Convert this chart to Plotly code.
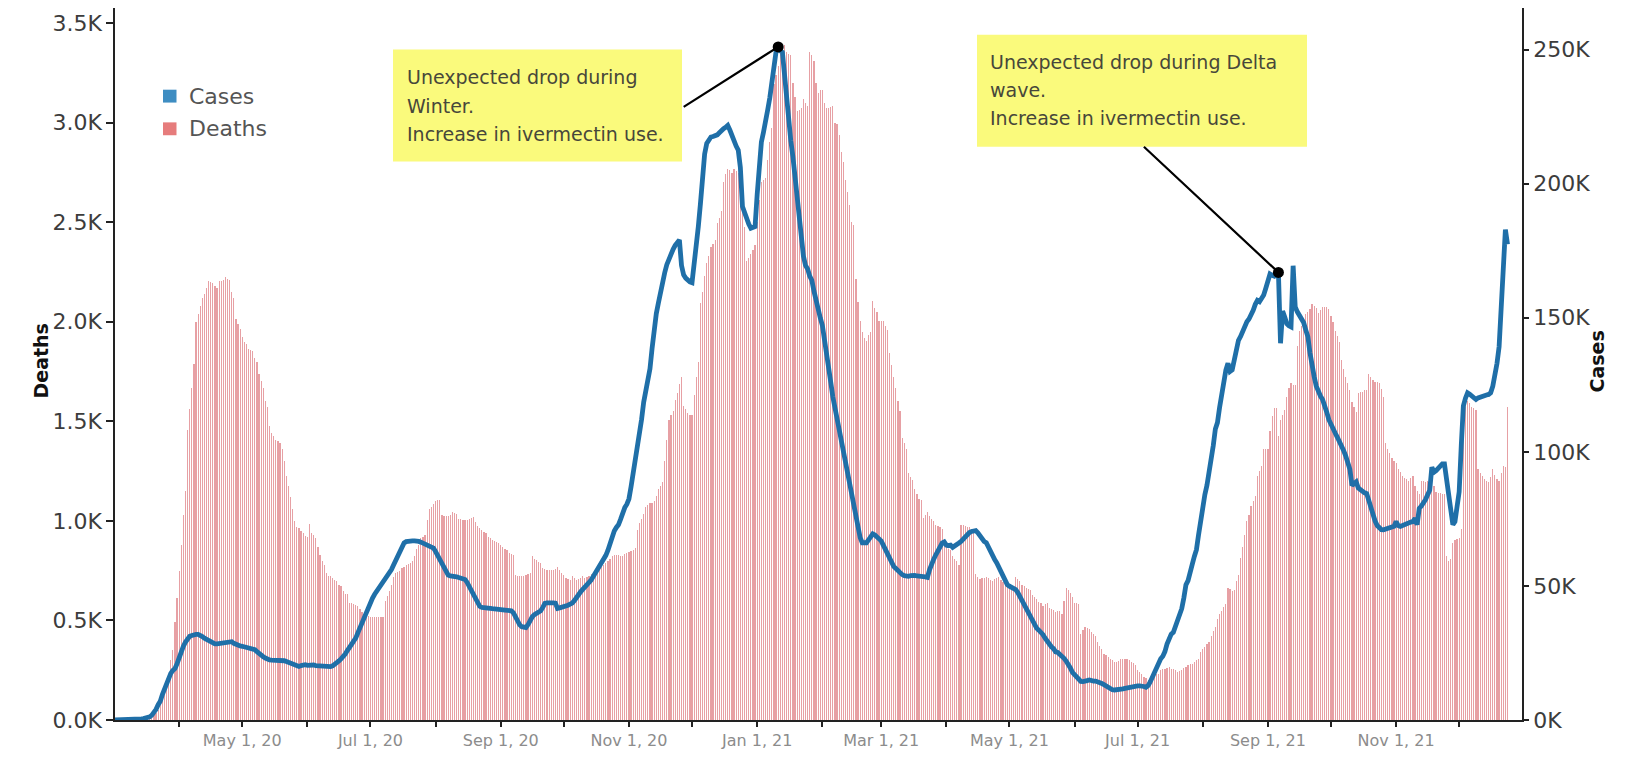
import pandas as pd
import plotly.graph_objects as go

# ---------------- DATA ----------------
start_date = "2020-03-01"

# Daily deaths (7-day avg style), one list per month
deaths_2020_03 = [0]*15 + [2, 5, 10, 15, 25, 35, 50, 80, 120, 167, 190, 217, 300, 349, 490, 614]
deaths_2020_04 = [746, 880, 1028, 1152, 1458, 1560, 1665, 1789, 1996, 2040, 2079, 2120, 2137, 2170, 2203,
                  2200, 2195, 2180, 2170, 2203, 2205, 2211, 2223, 2215, 2211, 2150, 2120, 2012, 1990, 1963]
deaths_2020_05 = [1921, 1900, 1888, 1864, 1860, 1855, 1820, 1797, 1739, 1700, 1665, 1600, 1574, 1475, 1440,
                  1425, 1408, 1400, 1392, 1359, 1300, 1226, 1177, 1120, 1061, 1000, 970, 962, 950, 937, 925]
deaths_2020_06 = [920, 986, 940, 928, 912, 870, 829, 800, 780, 738, 725, 722, 713, 705, 697,
                  680, 672, 647, 635, 631, 589, 585, 581, 575, 570, 556, 540, 530, 523, 520]
deaths_2020_07 = [518, 515, 515, 515, 515, 515, 515, 597, 622, 650, 680, 720, 738, 742, 746,
                  763, 770, 780, 785, 788, 800, 821, 860, 879, 912, 920, 928, 1003, 1061, 1070, 1086]
deaths_2020_08 = [1102, 1105, 1107, 1028, 1025, 1024, 1026, 1028, 1044, 1040, 1036, 1011, 1010, 1005, 1003,
                  1003, 1008, 1015, 1019, 995, 975, 965, 953, 945, 937, 920, 915, 904, 900, 895, 887]
deaths_2020_09 = [880, 870, 860, 854, 837, 832, 829, 730, 725, 722, 722, 725, 730, 735, 738,
                  821, 810, 804, 795, 788, 763, 758, 755, 755, 755, 755, 760, 766, 755, 740]
deaths_2020_10 = [730, 713, 710, 705, 722, 712, 705, 710, 715, 722, 713, 720, 725, 731, 740,
                  748, 754, 760, 770, 776, 790, 799, 810, 821, 828, 828, 828, 825, 821, 833, 840]
deaths_2020_11 = [844, 850, 855, 866, 956, 990, 1010, 1035, 1069, 1080, 1091, 1091, 1100, 1125, 1159,
                  1175, 1193, 1300, 1406, 1508, 1530, 1553, 1609, 1640, 1688, 1721, 1575, 1560, 1541, 1530]
deaths_2020_12 = [1530, 1631, 1720, 1800, 2093, 2150, 2228, 2295, 2330, 2374, 2390, 2408, 2498, 2520, 2554,
                  2700, 2740, 2768, 2760, 2745, 2768, 2755, 2745, 2633, 2550, 2475, 2306, 2320, 2340, 2360, 2385]
deaths_2021_01 = [2500, 2610, 2700, 2710, 2723, 2813, 2900, 2970, 3195, 3240, 3285, 3375, 3380, 3387, 3353,
                  3345, 3341, 3200, 3128, 3060, 3065, 3071, 3116, 3100, 3083, 3353, 3340, 3308, 3200, 3150, 3161]
deaths_2021_02 = [3161, 3100, 3071, 3075, 3080, 3083, 3000, 2993, 2936, 2850, 2801, 2711, 2650, 2588,
                  2500, 2486, 2216, 2100, 2003, 1946, 1920, 1901, 1935, 1950, 2104, 2070, 2048, 2003]
deaths_2021_03 = [2003, 2003, 1980, 1958, 1845, 1780, 1721, 1665, 1600, 1553, 1418, 1390, 1361, 1238, 1220,
                  1204, 1160, 1136, 1110, 1103, 1013, 1030, 1046, 1024, 1010, 1001, 979, 972, 968, 960, 900]
deaths_2021_04 = [878, 860, 855, 821, 810, 799, 776, 979, 979, 975, 970, 968, 960, 956, 731,
                  720, 709, 712, 715, 720, 715, 705, 698, 710, 715, 720, 705, 695, 686, 680]
deaths_2021_05 = [678, 676, 675, 720, 710, 698, 680, 675, 664, 658, 653, 630, 620, 608, 595,
                  585, 574, 580, 585, 563, 555, 551, 540, 545, 548, 531, 600, 664, 655, 639, 620]
deaths_2021_06 = [589, 585, 581, 432, 450, 465, 460, 457, 440, 432, 424, 391, 370, 357, 333,
                  325, 316, 305, 300, 291, 291, 295, 308, 308, 308, 305, 300, 291, 285, 275]
deaths_2021_07 = [250, 240, 233, 217, 210, 200, 210, 217, 225, 230, 233, 250, 255, 258, 262,
                  266, 258, 255, 250, 242, 245, 250, 262, 266, 275, 280, 283, 291, 300, 308, 341]
deaths_2021_08 = [355, 366, 380, 391, 424, 445, 465, 506, 530, 548, 565, 581, 664, 660, 647,
                  655, 700, 730, 813, 870, 928, 1000, 1028, 1077, 1100, 1127, 1226, 1250, 1276, 1359, 1359]
deaths_2021_09 = [1359, 1450, 1524, 1566, 1566, 1425, 1508, 1530, 1557, 1620, 1665, 1690, 1682, 1682, 1880,
                  1955, 1980, 2004, 2037, 2050, 2062, 2087, 2080, 2070, 2045, 2060, 2074, 2074, 2074, 2062]
deaths_2021_10 = [2030, 1996, 1955, 1930, 1897, 1806, 1760, 1723, 1690, 1657, 1599, 1570, 1549, 1640, 1645,
                  1648, 1657, 1657, 1739, 1720, 1706, 1698, 1695, 1690, 1660, 1624, 1392, 1360, 1342, 1317, 1300]
deaths_2021_11 = [1292, 1260, 1243, 1226, 1215, 1210, 1201, 1215, 1226, 1177, 1150, 1135, 1201, 1200, 1193,
                  1200, 1210, 1190, 1177, 1144, 1140, 1140, 1135, 1135, 821, 796, 810, 887, 904, 908]
deaths_2021_12 = [912, 960, 1607, 1615, 1600, 1590, 1570, 1566, 1557, 1259, 1240, 1226, 1210, 1200, 1193,
                  1220, 1259, 1230, 1210, 1201, 1240, 1276, 1268, 1574]

# Daily cases, thousands
cases_2020_03 = [0]*10 + [0.1, 0.2, 0.3, 0.4, 0.5, 0.7, 0.9, 1.2, 1.8, 2.8, 4.0, 5.7, 7.0, 9.5, 11.8,
                          14.0, 15.8, 17.4, 18.5, 19.2, 21.0]
cases_2020_04 = [23.5, 25.4, 27.5, 29.1, 30.5, 31.2, 31.5, 31.8, 31.9, 31.9, 31.6, 31.1, 30.5, 30.0, 29.6,
                 29.0, 28.6, 28.4, 28.4, 28.5, 28.7, 29.0, 29.1, 29.1, 29.2, 29.2, 28.6, 28.1, 27.8, 27.6]
cases_2020_05 = [27.5, 27.3, 27.1, 27.0, 26.8, 26.5, 26.2, 25.5, 24.7, 24.2, 23.6, 23.1, 22.6, 22.4, 22.3,
                 22.3, 22.3, 22.5, 22.4, 22.3, 22.1, 21.8, 21.5, 21.1, 20.8, 20.5, 20.1, 20.0, 20.3, 20.5, 20.6]
cases_2020_06 = [20.4, 20.5, 20.6, 20.5, 20.3, 20.2, 20.1, 20.0, 19.8, 19.8, 19.8, 19.9, 20.2, 20.7, 21.3,
                 22.0, 22.8, 23.6, 24.6, 25.9, 26.8, 28.2, 29.4, 30.5, 32.5, 34.5, 36.5, 38.5, 40.4, 42.5]
cases_2020_07 = [43.6, 45.5, 46.9, 48.0, 49.0, 50.0, 51.3, 52.5, 53.6, 54.8, 56.1, 57.8, 59.6, 61.5, 63.5,
                 65.2, 66.0, 66.5, 66.7, 66.8, 66.8, 66.8, 66.8, 66.6, 66.3, 66.0, 65.6, 65.2, 64.8, 64.4, 64.1]
cases_2020_08 = [62.8, 61.2, 59.6, 58.0, 56.6, 54.9, 54.0, 53.7, 53.7, 53.7, 53.4, 53.1, 52.8, 52.6, 52.4,
                 51.3, 49.7, 48.1, 46.3, 44.6, 43.2, 42.4, 42.0, 41.8, 41.6, 41.6, 41.6, 41.5, 41.5, 41.4, 41.3]
cases_2020_09 = [41.2, 41.1, 41.0, 41.0, 40.9, 40.7, 40.0, 38.5, 36.8, 35.5, 34.8, 34.4, 34.5, 35.6, 37.2,
                 38.5, 39.3, 39.8, 40.2, 40.7, 42.0, 43.5, 43.7, 43.8, 43.8, 43.7, 43.6, 41.6, 41.8, 42.0]
cases_2020_10 = [42.0, 42.3, 42.8, 43.2, 43.6, 44.5, 45.8, 46.9, 47.8, 48.7, 49.5, 50.5, 51.5, 52.2, 53.5,
                 54.8, 56.0, 57.2, 58.6, 59.6, 61.4, 63.3, 65.7, 68.5, 70.5, 71.8, 72.8, 74.8, 77.4, 79.2, 80.5]
cases_2020_11 = [82.5, 87.0, 91.6, 96.2, 101.5, 106.8, 112.1, 118.5, 122.8, 124.8, 131.0, 138.6, 146.5, 151.5, 155.5,
                 159.8, 163.5, 166.8, 169.8, 172.0, 174.0, 175.5, 177.0, 178.0, 179.0, 169.5, 166.0, 164.8, 164.0, 163.4]
cases_2020_12 = [163.1, 169.5, 176.0, 184.0, 192.5, 202.0, 211.0, 215.0, 216.6, 217.4, 217.6, 217.8, 218.2, 219.0, 220.0,
                 220.5, 221.0, 221.7, 220.0, 217.5, 216.0, 214.0, 212.5, 206.0, 191.5, 189.0, 186.0, 184.9, 183.4, 183.5, 184.0]
cases_2021_01 = [196.0, 207.0, 215.5, 219.2, 222.5, 227.5, 232.0, 238.0, 246.0, 249.3, 251.0, 249.5, 249.0, 240.0, 232.0,
                 224.0, 216.0, 210.0, 202.4, 195.0, 186.0, 179.0, 173.0, 169.5, 168.2, 165.5, 164.0, 160.0, 156.0, 153.0, 150.0]
cases_2021_02 = [147.2, 142.5, 138.0, 131.5, 126.0, 120.5, 116.5, 112.0, 107.0, 103.5, 101.2, 97.0, 93.0, 88.7,
                 84.5, 80.0, 75.3, 71.0, 68.0, 66.1, 66.0, 66.1, 67.2, 68.3, 69.4, 69.0, 68.4, 67.5]
cases_2021_03 = [66.8, 65.2, 63.5, 61.8, 60.0, 58.5, 57.2, 56.5, 55.6, 54.9, 54.2, 53.8, 53.5, 53.6, 53.8,
                 54.0, 53.9, 53.7, 53.5, 53.6, 53.5, 53.4, 53.2, 56.0, 58.6, 60.0, 61.6, 63.0, 64.4, 66.0, 66.4]
cases_2021_04 = [65.2, 65.0, 65.2, 64.4, 64.8, 65.3, 66.0, 66.6, 67.6, 68.5, 69.2, 69.9, 70.3, 70.6, 70.6,
                 69.8, 68.6, 67.6, 66.6, 66.1, 64.3, 62.6, 61.3, 59.8, 58.6, 57.0, 55.0, 53.6, 51.7, 50.5]
cases_2021_05 = [49.9, 49.6, 49.2, 48.6, 47.5, 46.0, 44.3, 42.7, 41.2, 39.5, 38.0, 36.6, 35.3, 34.2, 33.5,
                 32.8, 31.8, 30.5, 29.2, 28.3, 27.3, 26.6, 25.4, 25.2, 24.6, 23.8, 23.0, 22.0, 21.0, 19.4, 17.8]
cases_2021_06 = [16.8, 15.8, 15.0, 14.4, 14.3, 14.3, 14.7, 14.9, 14.6, 14.5, 14.5, 14.3, 14.0, 13.6, 13.2,
                 12.6, 12.1, 11.6, 11.3, 11.2, 11.2, 11.2, 11.4, 11.6, 11.8, 12.0, 12.1, 12.2, 12.3, 12.5]
cases_2021_07 = [12.7, 12.7, 12.7, 12.5, 12.2, 12.8, 14.2, 16.0, 17.8, 19.4, 21.3, 22.8, 23.8, 25.5, 28.3,
                 30.9, 32.0, 32.7, 34.8, 36.8, 38.9, 41.5, 45.5, 50.4, 52.0, 54.5, 58.0, 61.0, 63.5, 69.0, 75.0]
cases_2021_08 = [80.0, 84.0, 87.5, 91.8, 97.5, 102.3, 108.5, 110.9, 116.5, 121.5, 126.5, 130.5, 133.0, 130.0, 130.6,
                 134.5, 139.0, 141.6, 143.0, 145.0, 147.2, 148.5, 149.5, 151.0, 152.8, 155.0, 156.5, 156.0, 157.0, 158.5, 161.0]
cases_2021_09 = [164.0, 166.3, 165.8, 165.5, 166.5, 166.9, 140.5, 152.5, 150.3, 147.8, 147.0, 146.6, 169.4, 154.0, 152.2,
                 150.8, 149.7, 148.2, 145.5, 143.0, 137.0, 131.8, 128.1, 124.5, 122.0, 120.8, 119.5, 117.5, 114.8, 112.0]
cases_2021_10 = [110.0, 108.5, 107.0, 105.5, 104.0, 102.3, 100.5, 98.5, 96.5, 93.5, 87.5, 88.0, 88.8, 86.5, 85.8,
                 85.1, 84.7, 84.4, 81.5, 79.0, 76.4, 74.2, 72.5, 71.5, 71.0, 70.9, 71.2, 71.4, 71.5, 71.8, 72.2]
cases_2021_11 = [74.0, 72.5, 72.2, 72.6, 73.0, 73.4, 73.6, 73.8, 74.0, 75.2, 72.8, 78.9, 79.8, 80.8, 82.2,
                 84.0, 85.7, 94.3, 92.4, 93.0, 93.7, 94.8, 95.5, 95.5, 90.0, 82.6, 76.4, 72.8, 74.0, 80.1]
cases_2021_12 = [85.1, 102.3, 117.1, 120.0, 122.0, 121.5, 120.8, 120.0, 119.5, 120.1, 120.5, 120.8, 121.0, 121.2, 121.4,
                 122.0, 124.5, 128.5, 133.0, 139.2, 151.5, 168.8, 182.9, 177.4]

# x-axis labels (every second month)
tick_dates = ["2020-05-01", "2020-07-01", "2020-09-01", "2020-11-01", "2021-01-01",
              "2021-03-01", "2021-05-01", "2021-07-01", "2021-09-01", "2021-11-01"]
tick_labels = ["May 1, 20", "Jul 1, 20", "Sep 1, 20", "Nov 1, 20", "Jan 1, 21",
               "Mar 1, 21", "May 1, 21", "Jul 1, 21", "Sep 1, 21", "Nov 1, 21"]
month_ticks = pd.date_range("2020-04-01", "2021-12-01", freq="MS").strftime("%Y-%m-%d").tolist()

deaths_ticks = [0, 500, 1000, 1500, 2000, 2500, 3000, 3500]
deaths_tick_labels = ["0.0K", "0.5K", "1.0K", "1.5K", "2.0K", "2.5K", "3.0K", "3.5K"]
cases_ticks = [0, 50000, 100000, 150000, 200000, 250000]
cases_tick_labels = ["0K", "50K", "100K", "150K", "200K", "250K"]

annot_dates = ["2021-01-11", "2021-09-06"]
annot_texts = [["Unexpected drop during", "Winter.", "Increase in ivermectin use."],
               ["Unexpected drop during Delta", "wave.", "Increase in ivermectin use."]]

# ---------------- BUILD ----------------
deaths = (deaths_2020_03 + deaths_2020_04 + deaths_2020_05 + deaths_2020_06 + deaths_2020_07 +
          deaths_2020_08 + deaths_2020_09 + deaths_2020_10 + deaths_2020_11 + deaths_2020_12 +
          deaths_2021_01 + deaths_2021_02 + deaths_2021_03 + deaths_2021_04 + deaths_2021_05 +
          deaths_2021_06 + deaths_2021_07 + deaths_2021_08 + deaths_2021_09 + deaths_2021_10 +
          deaths_2021_11 + deaths_2021_12)
cases_k = (cases_2020_03 + cases_2020_04 + cases_2020_05 + cases_2020_06 + cases_2020_07 +
           cases_2020_08 + cases_2020_09 + cases_2020_10 + cases_2020_11 + cases_2020_12 +
           cases_2021_01 + cases_2021_02 + cases_2021_03 + cases_2021_04 + cases_2021_05 +
           cases_2021_06 + cases_2021_07 + cases_2021_08 + cases_2021_09 + cases_2021_10 +
           cases_2021_11 + cases_2021_12)
dates = pd.date_range(start_date, periods=len(deaths), freq="D")
cases = [v * 1000 for v in cases_k]
case_by_date = dict(zip(dates.strftime("%Y-%m-%d"), cases))

# pixel -> paper helpers for layout placement
L, R, T, B = 115, 1522, 8, 727
def px(x):
    return (x - L) / (R - L)
def py(y):
    return (B - y) / (B - T)

FONT = "DejaVu Sans"
fig = go.Figure()
fig.add_trace(go.Bar(x=dates, y=deaths, name="Deaths", yaxis="y",
                     marker=dict(color="#E7A0A4", line=dict(width=0)),
                     width=0.1 * 86400000, showlegend=False, hoverinfo="skip"))
fig.add_trace(go.Scatter(x=dates, y=cases, name="Cases", yaxis="y2", mode="lines",
                         line=dict(color="#1F6FA8", width=4.8), showlegend=False, hoverinfo="skip"))
fig.add_trace(go.Scatter(x=annot_dates, y=[case_by_date[d] for d in annot_dates], yaxis="y2",
                         mode="markers", marker=dict(color="black", size=11),
                         showlegend=False, hoverinfo="skip"))

annotations = []
shapes = []
# callout pointer lines (tail offsets in pixels)
tails = [(-96, 61), (-136, -127)]
for d, (ax, ay) in zip(annot_dates, tails):
    annotations.append(dict(x=d, y=case_by_date[d], xref="x", yref="y2", text="", showarrow=True,
                            arrowhead=0, arrowwidth=2.2, arrowcolor="black", ax=ax, ay=ay, standoff=0))
# yellow callout boxes
boxes = [(393, 682, 50, 163, 405, [78, 106.5, 135]),
         (977, 1307, 35, 148, 988, [63, 91, 119])]
for (x0, x1, y0, y1, tx, lines_y), lines in zip(boxes, annot_texts):
    shapes.append(dict(type="rect", xref="paper", yref="paper", x0=px(x0), x1=px(x1),
                       y0=py(y1), y1=py(y0), fillcolor="#FAFA7C", line=dict(width=0), layer="above"))
    for t, yy in zip(lines, lines_y):
        annotations.append(dict(x=px(tx), y=py(yy), xref="paper", yref="paper", text=t, showarrow=False,
                                xanchor="left", yanchor="middle",
                                font=dict(family=FONT, size=19, color="#47473A")))
# legend
legend_items = [("Cases", "#3E8DC2", 97), ("Deaths", "#E67C7C", 130)]
for name, col, yc in legend_items:
    shapes.append(dict(type="rect", xref="paper", yref="paper", x0=px(163), x1=px(176.5),
                       y0=py(yc + 6.5), y1=py(yc - 6.5), fillcolor=col, line=dict(width=0)))
    annotations.append(dict(x=px(187), y=py(yc), xref="paper", yref="paper", text=name, showarrow=False,
                            xanchor="left", yanchor="middle", font=dict(family=FONT, size=22, color="#555555")))
# axis titles
annotations.append(dict(x=px(28), y=py(365), xref="paper", yref="paper", text="<b>Deaths</b>",
                        textangle=-90, showarrow=False, font=dict(family=FONT, size=19, color="#111111")))
annotations.append(dict(x=px(1610), y=py(365), xref="paper", yref="paper", text="<b>Cases</b>",
                        textangle=-90, showarrow=False, font=dict(family=FONT, size=19, color="#111111")))

fig.update_layout(
    width=1626, height=758,
    margin=dict(l=L, r=1626 - R, t=T, b=758 - B, pad=0),
    paper_bgcolor="white", plot_bgcolor="white",
    bargap=0, showlegend=False,
    xaxis=dict(type="date", range=["2020-03-01 11:00", "2021-12-30 21:30"],
               showline=True, linecolor="#222222", linewidth=1.5, mirror=False,
               showgrid=False, zeroline=False,
               tickmode="array", tickvals=tick_dates, ticktext=tick_labels,
               ticks="outside", ticklen=5, tickwidth=1.5, tickcolor="#222222",
               minor=dict(tickmode="array", tickvals=month_ticks, ticks="outside", ticklen=5,
                          tickwidth=1.5, tickcolor="#222222", showgrid=False),
               tickfont=dict(family=FONT, size=16, color="#8C8C8C")),
    yaxis=dict(range=[0, 3575], showline=True, linecolor="#222222", linewidth=1.5,
               showgrid=False, zeroline=False, tickmode="array", tickvals=deaths_ticks,
               ticktext=deaths_tick_labels, ticks="outside", ticklen=7, tickwidth=1.5,
               tickcolor="#222222", tickfont=dict(family=FONT, size=22, color="#3C3C3C")),
    yaxis2=dict(range=[0, 265500], overlaying="y", side="right", showline=True,
                linecolor="#222222", linewidth=1.5, showgrid=False, zeroline=False,
                tickmode="array", tickvals=cases_ticks, ticktext=cases_tick_labels,
                ticks="outside", ticklen=5, tickwidth=1.5, tickcolor="#222222",
                tickfont=dict(family=FONT, size=22, color="#3C3C3C")),
    annotations=annotations, shapes=shapes,
)

fig.write_html("out.html", config={"displayModeBar": False},
               post_script="document.body.style.margin='0';document.body.style.overflow='hidden';")
